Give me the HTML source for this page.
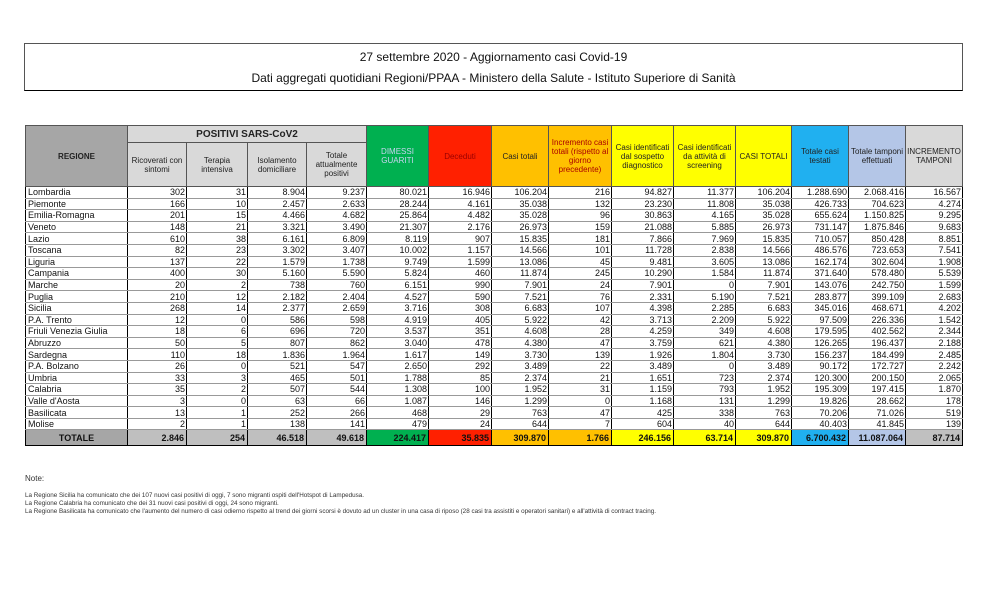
<!DOCTYPE html>
<html><head><meta charset="utf-8"><style>
body{margin:0;width:996px;height:599px;background:#fff;font-family:"Liberation Sans",sans-serif;position:relative;overflow:hidden}
.box{position:absolute;left:24px;top:43px;width:937px;height:46px;border:1px solid #555;border-bottom:1.5px solid #000}
.box div{position:absolute;left:0;width:100%;text-align:center;font-size:12px;color:#111}
table{position:absolute;left:25px;top:125px;border-collapse:collapse;table-layout:fixed;font-size:9px;color:#111}
td{border-left:1px solid #000;border-right:1px solid #000;border-bottom:1px solid #999;padding:0 1px;height:10.6px;line-height:10px;text-align:right;white-space:nowrap;overflow:hidden}
td:first-child{text-align:left;padding-left:2px}
th{border:1px solid #555;font-weight:normal;font-size:8px;line-height:9px;padding:0 1px;color:#222}
.tot td{height:15px;font-weight:bold;background:#bfbfbf;border-top:1.5px solid #000;border-bottom:1.5px solid #000;padding-right:2px}
.note{position:absolute;left:25px;font-size:6.3px;color:#333;white-space:nowrap}
</style></head><body>
<div class="box"><div style="top:6px">27 settembre 2020 - Aggiornamento casi Covid-19</div><div style="top:27px">Dati aggregati quotidiani Regioni/PPAA - Ministero della Salute - Istituto Superiore di Sanità</div></div>
<table>
<colgroup><col style="width:102px"><col style="width:59px"><col style="width:61px"><col style="width:59px"><col style="width:60px"><col style="width:62px"><col style="width:63px"><col style="width:57px"><col style="width:63px"><col style="width:62px"><col style="width:62px"><col style="width:56px"><col style="width:57px"><col style="width:57px"><col style="width:57px"></colgroup>
<tr style="height:17px"><th rowspan="2" style="background:#a6a6a6;font-weight:bold">REGIONE</th><th colspan="4" style="background:#d9d9d9;font-weight:bold;font-size:10px">POSITIVI SARS-CoV2</th>
<th rowspan="2" style="background:#00b050;color:#c8d4f0">DIMESSI GUARITI</th>
<th rowspan="2" style="background:#ff2000;color:#900">Deceduti</th>
<th rowspan="2" style="background:#ffc000">Casi totali</th>
<th rowspan="2" style="background:#ffc000;color:#a00">Incremento casi totali (rispetto al giorno precedente)</th>
<th rowspan="2" style="background:#ffff00">Casi identificati dal sospetto diagnostico</th>
<th rowspan="2" style="background:#ffff00">Casi identificati da attività di screening</th>
<th rowspan="2" style="background:#ffff00">CASI TOTALI</th>
<th rowspan="2" style="background:#20b0f0">Totale casi testati</th>
<th rowspan="2" style="background:#b4c6e7">Totale tamponi effettuati</th>
<th rowspan="2" style="background:#d9d9d9">INCREMENTO TAMPONI</th></tr>
<tr style="height:44px"><th style="background:#d9d9d9">Ricoverati con sintomi</th><th style="background:#d9d9d9">Terapia intensiva</th><th style="background:#d9d9d9">Isolamento domiciliare</th><th style="background:#d9d9d9">Totale attualmente positivi</th></tr>
<tr><td>Lombardia</td><td>302</td><td>31</td><td>8.904</td><td>9.237</td><td>80.021</td><td>16.946</td><td>106.204</td><td>216</td><td>94.827</td><td>11.377</td><td>106.204</td><td>1.288.690</td><td>2.068.416</td><td>16.567</td></tr>
<tr><td>Piemonte</td><td>166</td><td>10</td><td>2.457</td><td>2.633</td><td>28.244</td><td>4.161</td><td>35.038</td><td>132</td><td>23.230</td><td>11.808</td><td>35.038</td><td>426.733</td><td>704.623</td><td>4.274</td></tr>
<tr><td>Emilia-Romagna</td><td>201</td><td>15</td><td>4.466</td><td>4.682</td><td>25.864</td><td>4.482</td><td>35.028</td><td>96</td><td>30.863</td><td>4.165</td><td>35.028</td><td>655.624</td><td>1.150.825</td><td>9.295</td></tr>
<tr><td>Veneto</td><td>148</td><td>21</td><td>3.321</td><td>3.490</td><td>21.307</td><td>2.176</td><td>26.973</td><td>159</td><td>21.088</td><td>5.885</td><td>26.973</td><td>731.147</td><td>1.875.846</td><td>9.683</td></tr>
<tr><td>Lazio</td><td>610</td><td>38</td><td>6.161</td><td>6.809</td><td>8.119</td><td>907</td><td>15.835</td><td>181</td><td>7.866</td><td>7.969</td><td>15.835</td><td>710.057</td><td>850.428</td><td>8.851</td></tr>
<tr><td>Toscana</td><td>82</td><td>23</td><td>3.302</td><td>3.407</td><td>10.002</td><td>1.157</td><td>14.566</td><td>101</td><td>11.728</td><td>2.838</td><td>14.566</td><td>486.576</td><td>723.653</td><td>7.541</td></tr>
<tr><td>Liguria</td><td>137</td><td>22</td><td>1.579</td><td>1.738</td><td>9.749</td><td>1.599</td><td>13.086</td><td>45</td><td>9.481</td><td>3.605</td><td>13.086</td><td>162.174</td><td>302.604</td><td>1.908</td></tr>
<tr><td>Campania</td><td>400</td><td>30</td><td>5.160</td><td>5.590</td><td>5.824</td><td>460</td><td>11.874</td><td>245</td><td>10.290</td><td>1.584</td><td>11.874</td><td>371.640</td><td>578.480</td><td>5.539</td></tr>
<tr><td>Marche</td><td>20</td><td>2</td><td>738</td><td>760</td><td>6.151</td><td>990</td><td>7.901</td><td>24</td><td>7.901</td><td>0</td><td>7.901</td><td>143.076</td><td>242.750</td><td>1.599</td></tr>
<tr><td>Puglia</td><td>210</td><td>12</td><td>2.182</td><td>2.404</td><td>4.527</td><td>590</td><td>7.521</td><td>76</td><td>2.331</td><td>5.190</td><td>7.521</td><td>283.877</td><td>399.109</td><td>2.683</td></tr>
<tr><td>Sicilia</td><td>268</td><td>14</td><td>2.377</td><td>2.659</td><td>3.716</td><td>308</td><td>6.683</td><td>107</td><td>4.398</td><td>2.285</td><td>6.683</td><td>345.016</td><td>468.671</td><td>4.202</td></tr>
<tr><td>P.A. Trento</td><td>12</td><td>0</td><td>586</td><td>598</td><td>4.919</td><td>405</td><td>5.922</td><td>42</td><td>3.713</td><td>2.209</td><td>5.922</td><td>97.509</td><td>226.336</td><td>1.542</td></tr>
<tr><td>Friuli Venezia Giulia</td><td>18</td><td>6</td><td>696</td><td>720</td><td>3.537</td><td>351</td><td>4.608</td><td>28</td><td>4.259</td><td>349</td><td>4.608</td><td>179.595</td><td>402.562</td><td>2.344</td></tr>
<tr><td>Abruzzo</td><td>50</td><td>5</td><td>807</td><td>862</td><td>3.040</td><td>478</td><td>4.380</td><td>47</td><td>3.759</td><td>621</td><td>4.380</td><td>126.265</td><td>196.437</td><td>2.188</td></tr>
<tr><td>Sardegna</td><td>110</td><td>18</td><td>1.836</td><td>1.964</td><td>1.617</td><td>149</td><td>3.730</td><td>139</td><td>1.926</td><td>1.804</td><td>3.730</td><td>156.237</td><td>184.499</td><td>2.485</td></tr>
<tr><td>P.A. Bolzano</td><td>26</td><td>0</td><td>521</td><td>547</td><td>2.650</td><td>292</td><td>3.489</td><td>22</td><td>3.489</td><td>0</td><td>3.489</td><td>90.172</td><td>172.727</td><td>2.242</td></tr>
<tr><td>Umbria</td><td>33</td><td>3</td><td>465</td><td>501</td><td>1.788</td><td>85</td><td>2.374</td><td>21</td><td>1.651</td><td>723</td><td>2.374</td><td>120.300</td><td>200.150</td><td>2.065</td></tr>
<tr><td>Calabria</td><td>35</td><td>2</td><td>507</td><td>544</td><td>1.308</td><td>100</td><td>1.952</td><td>31</td><td>1.159</td><td>793</td><td>1.952</td><td>195.309</td><td>197.415</td><td>1.870</td></tr>
<tr><td>Valle d'Aosta</td><td>3</td><td>0</td><td>63</td><td>66</td><td>1.087</td><td>146</td><td>1.299</td><td>0</td><td>1.168</td><td>131</td><td>1.299</td><td>19.826</td><td>28.662</td><td>178</td></tr>
<tr><td>Basilicata</td><td>13</td><td>1</td><td>252</td><td>266</td><td>468</td><td>29</td><td>763</td><td>47</td><td>425</td><td>338</td><td>763</td><td>70.206</td><td>71.026</td><td>519</td></tr>
<tr><td>Molise</td><td>2</td><td>1</td><td>138</td><td>141</td><td>479</td><td>24</td><td>644</td><td>7</td><td>604</td><td>40</td><td>644</td><td>40.403</td><td>41.845</td><td>139</td></tr>
<tr class="tot"><td style="text-align:center;background:#a6a6a6">TOTALE</td><td>2.846</td><td>254</td><td>46.518</td><td>49.618</td><td style="background:#00b050">224.417</td><td style="background:#ff2000">35.835</td><td style="background:#ffc000">309.870</td><td style="background:#ffc000">1.766</td><td style="background:#ffff00">246.156</td><td style="background:#ffff00">63.714</td><td style="background:#ffff00">309.870</td><td style="background:#20b0f0">6.700.432</td><td style="background:#b4c6e7">11.087.064</td><td style="background:#c0c0c0">87.714</td></tr>
</table>
<div class="note" style="top:474px;font-size:8px">Note:</div>
<div class="note" style="top:492px">La Regione Sicilia ha comunicato che dei 107 nuovi casi positivi di oggi, 7 sono migranti ospiti dell'Hotspot di Lampedusa.</div>
<div class="note" style="top:500px">La Regione Calabria ha comunicato che dei 31 nuovi casi positivi di oggi, 24 sono migranti.</div>
<div class="note" style="top:508px">La Regione Basilicata ha comunicato che l'aumento del numero di casi odierno rispetto al trend dei giorni scorsi è dovuto ad un cluster in una casa di riposo (28 casi tra assistiti e operatori sanitari) e all'attività di contract tracing.</div>
</body></html>
